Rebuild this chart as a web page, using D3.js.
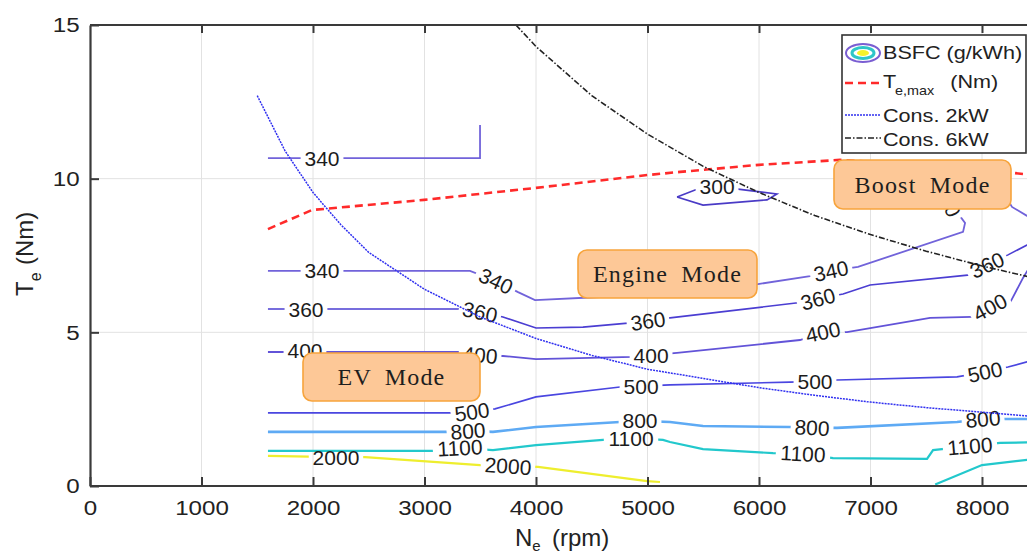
<!DOCTYPE html>
<html>
<head>
<meta charset="utf-8">
<script src="https://cdn.jsdelivr.net/npm/d3@7/dist/d3.min.js"></script>
<style>
body { margin: 0; background: #fff; }
svg { display: block; }
</style>
</head>
<body>
<script>
// axes
var xTicks = [0, 1000, 2000, 3000, 4000, 5000, 6000, 7000, 8000];
var yTicks = [0, 5, 10, 15];

// max torque curve  [rpm, Nm]
var teMax = [[1596, 8.36], [1991, 8.98], [2996, 9.31], [4000, 9.70], [5005, 10.12], [5292, 10.22],
             [6000, 10.45], [6727, 10.61], [7000, 10.55], [7500, 10.45], [8000, 10.3], [8250, 10.2], [8500, 10.1]];

// constant power lines
var cons2kW = [[1500, 12.7], [1750, 10.9], [2000, 9.55], [2250, 8.5], [2500, 7.6], [3000, 6.4], [3500, 5.5],
               [4000, 4.8], [4500, 4.25], [5000, 3.8], [5500, 3.5], [6000, 3.2], [6500, 2.95], [7000, 2.73],
               [7500, 2.55], [8000, 2.4], [8500, 2.25]];
var cons6kW = [[3820, 15.0], [4000, 14.3], [4500, 12.7], [5000, 11.45], [5500, 10.4], [6000, 9.55],
               [6500, 8.8], [7000, 8.18], [7500, 7.64], [8000, 7.16], [8500, 6.74]];

// BSFC contours  [rpm, Nm], labels [rpm, Nm, angle]
var c300 = [[5265, 9.40], [5426, 9.63], [5624, 9.72], [5812, 9.66], [6161, 9.50], [6072, 9.31], [5498, 9.14], [5265, 9.40]];
var lab300 = [[5624, 9.76, 0]];

var c340a = [[1596, 10.67], [3498, 10.67], [3498, 11.75]];
var lab340a = [[2081, 10.67, 0]];

var c340b = [[1596, 7.00], [3408, 7.00], [3641, 6.67], [3839, 6.31], [3991, 6.05], [4574, 6.15], [5471, 6.38],
             [5991, 6.57], [6458, 6.83], [6646, 7.00], [6888, 7.13], [7830, 8.27], [7848, 8.56], [7695, 9.31],
             [7560, 10.0], [7700, 10.5], [8000, 10.4], [8200, 9.5], [8269, 9.08], [8404, 8.79], [8566, 8.46]];
var lab340b = [[2081, 7.00, 0], [3641, 6.67, 25], [6646, 7.00, -12], [7695, 9.31, 65]];

var c360 = [[1596, 5.76], [3318, 5.76], [3498, 5.66], [3704, 5.50], [4000, 5.14], [4421, 5.17], [4825, 5.30],
            [5004, 5.37], [5202, 5.47], [6350, 5.96], [6529, 6.09], [6754, 6.25], [6996, 6.54], [7892, 6.87],
            [8045, 7.19], [8233, 7.52], [8404, 7.84], [8566, 8.14]];
var lab360 = [[1937, 5.76, 0], [3498, 5.66, 12], [5004, 5.37, -8], [6529, 6.09, -15], [8045, 7.19, -25]];

var c400 = [[1596, 4.36], [3301, 4.36], [3498, 4.26], [3704, 4.23], [4000, 4.13], [4870, 4.20], [5032, 4.26],
            [5265, 4.33], [6368, 4.75], [6574, 5.01], [6789, 5.01], [7534, 5.47], [7910, 5.50], [8072, 5.82],
            [8251, 5.96], [8368, 6.77], [8520, 7.68]];
var lab400 = [[1928, 4.40, 0], [3498, 4.26, 5], [5032, 4.26, 0], [6574, 5.01, -12], [8072, 5.82, -28]];

var c500 = [[1596, 2.38], [3274, 2.38], [3426, 2.41], [3632, 2.51], [4000, 2.90], [4753, 3.22], [4942, 3.25],
            [5202, 3.29], [6278, 3.38], [6502, 3.40], [6700, 3.45], [7776, 3.55], [8027, 3.71], [8233, 3.87],
            [8404, 4.04], [8566, 4.17]];
var lab500 = [[3426, 2.41, -8], [4942, 3.25, 0], [6502, 3.40, 0], [8027, 3.71, -12]];

var c800 = [[1596, 1.76], [3229, 1.76], [3390, 1.79], [3614, 1.76], [4000, 1.92], [4753, 2.08], [4933, 2.12],
            [5202, 2.08], [5498, 1.95], [6278, 1.92], [6476, 1.90], [6700, 1.89], [7776, 2.08], [8009, 2.18],
            [8233, 2.18], [8566, 2.18]];
var lab800 = [[3390, 1.79, -4], [4933, 2.12, 0], [6476, 1.90, 3], [8009, 2.18, -5]];

var c1100a = [[1596, 1.14], [3076, 1.14], [3318, 1.24], [3614, 1.17], [4000, 1.33], [4601, 1.50], [4852, 1.56],
              [5139, 1.50], [5202, 1.43], [5498, 1.20], [6126, 1.07], [6395, 1.05], [6664, 0.91], [7507, 0.88],
              [7561, 1.17], [7642, 1.20], [7892, 1.30], [8162, 1.40], [8566, 1.43]];
var lab1100a = [[3318, 1.24, -3], [4852, 1.56, 0], [6395, 1.05, 3], [7892, 1.30, -5]];

var c1100b = [[7580, 0.05], [8000, 0.68], [8404, 0.85], [8566, 0.9]];
var lab1100b = [];

var c2000 = [[1596, 0.98], [2206, 0.94], [2467, 0.94], [3498, 0.68], [3749, 0.65], [4018, 0.62], [4996, 0.16], [5112, 0.13]];
var lab2000 = [[2206, 0.94, 0], [3749, 0.65, 4]];

var contours = [
    {lv: 300, pts: c300, labs: lab300},
    {lv: 340, pts: c340a, labs: lab340a},
    {lv: 340, pts: c340b, labs: lab340b},
    {lv: 360, pts: c360, labs: lab360},
    {lv: 400, pts: c400, labs: lab400},
    {lv: 500, pts: c500, labs: lab500},
    {lv: 800, pts: c800, labs: lab800},
    {lv: 1100, pts: c1100a, labs: lab1100a},
    {lv: 1100, pts: c1100b, labs: lab1100b},
    {lv: 2000, pts: c2000, labs: lab2000}
];
var lvColor = {300: '#4a3bc6', 340: '#7163da', 360: '#4b3ed2', 400: '#6253d8', 500: '#4a46e0',
               800: '#5eaaf4', 1100: '#22c8cc', 2000: '#eeee2e'};
var lvWidth = {300: 1.6, 340: 1.8, 360: 1.6, 400: 1.8, 500: 1.6, 800: 2.6, 1100: 2.2, 2000: 2.2};

var W = 1027, H = 554;
var x = d3.scaleLinear().domain([0, 9000]).range([90, 1093.5]);
var y = d3.scaleLinear().domain([0, 15]).range([486, 25]);

var svg = d3.select('body').append('svg')
    .attr('width', W)
    .attr('height', H)
    .style('font-family', '"Liberation Sans", Arial, sans-serif');

var defs = svg.append('defs');
defs.append('clipPath').attr('id', 'plot')
    .append('rect').attr('x', 90).attr('y', 25).attr('width', 1010).attr('height', 461);

// grid
var grid = svg.append('g').attr('stroke', '#e2e2e2').attr('stroke-width', 1);
grid.selectAll('.gx').data(xTicks.slice(1)).enter().append('line')
    .attr('x1', d => x(d)).attr('x2', d => x(d)).attr('y1', y(0)).attr('y2', y(15));
grid.selectAll('.gy').data(yTicks.slice(1, 3)).enter().append('line')
    .attr('x1', x(0)).attr('x2', x(9000)).attr('y1', d => y(d)).attr('y2', d => y(d));

var line = d3.line().x(d => x(d[0])).y(d => y(d[1]));
var plot = svg.append('g').attr('clip-path', 'url(#plot)');

// contour lines with gaps for the labels
contours.forEach(function(c, i) {
    var m = defs.append('mask').attr('id', 'm' + i).attr('maskUnits', 'userSpaceOnUse')
        .attr('x', 0).attr('y', 0).attr('width', W).attr('height', H);
    m.append('rect').attr('width', W).attr('height', H).attr('fill', 'white');
    var tw = String(c.lv).length * 11.6 + 8;
    c.labs.forEach(function(l) {
        m.append('rect').attr('x', -tw / 2).attr('y', -9).attr('width', tw).attr('height', 18)
            .attr('fill', 'black')
            .attr('transform', 'translate(' + x(l[0]) + ',' + y(l[1]) + ') rotate(' + l[2] + ')');
    });
    plot.append('path').datum(c.pts)
        .attr('d', line)
        .attr('fill', 'none')
        .attr('stroke', lvColor[c.lv])
        .attr('stroke-width', lvWidth[c.lv])
        .attr('mask', 'url(#m' + i + ')');
    plot.selectAll(null).data(c.labs).enter().append('text')
        .attr('transform', d => 'translate(' + x(d[0]) + ',' + y(d[1]) + ') rotate(' + d[2] + ')')
        .attr('text-anchor', 'middle')
        .attr('dy', '0.36em')
        .attr('font-size', 21)
        .attr('fill', '#1c1c1c')
        .text(c.lv);
});

// Te max
plot.append('path').datum(teMax).attr('d', line)
    .attr('fill', 'none').attr('stroke', '#ff2a2a').attr('stroke-width', 2.6)
    .attr('stroke-dasharray', '8,5');
// constant power
plot.append('path').datum(cons2kW).attr('d', line)
    .attr('fill', 'none').attr('stroke', '#3030f0').attr('stroke-width', 1.5)
    .attr('stroke-dasharray', '2,1');
plot.append('path').datum(cons6kW).attr('d', line)
    .attr('fill', 'none').attr('stroke', '#222').attr('stroke-width', 1.6)
    .attr('stroke-dasharray', '6,2,1.5,2');

// axes
var tickStretch = 'scale(1.15,1)';
var fmt = d3.format('d');
var axB = svg.append('g').attr('transform', 'translate(0,' + y(0) + ')')
    .call(d3.axisBottom(x).tickValues(xTicks).tickFormat(fmt).tickSizeInner(-9).tickSizeOuter(0).tickPadding(14));
var axT = svg.append('g').attr('transform', 'translate(0,' + y(15) + ')')
    .call(d3.axisTop(x).tickValues(xTicks.slice(1)).tickSizeInner(-8).tickSizeOuter(0).tickFormat(''));
var axL = svg.append('g').attr('transform', 'translate(' + x(0) + ',0)')
    .call(d3.axisLeft(y).tickValues(yTicks).tickFormat(fmt).tickSizeInner(-9).tickSizeOuter(0).tickPadding(9));
[axB, axT, axL].forEach(function(a) {
    a.select('.domain').attr('stroke', '#3a3a3a').attr('stroke-width', 2.2);
    a.selectAll('.tick line').attr('stroke', '#3a3a3a').attr('stroke-width', 2);
    a.selectAll('.tick text').attr('font-size', 21).attr('fill', '#222')
        .attr('font-family', '"Liberation Sans", Arial, sans-serif')
        .attr('transform', tickStretch);
});
axB.select('.domain').attr('d', 'M90,0H1100');
axT.select('.domain').attr('d', 'M90,0H1100');

// axis titles
var xt = svg.append('text').attr('x', 515).attr('y', 546).attr('font-size', 24).attr('fill', '#222');
xt.append('tspan').text('N');
xt.append('tspan').attr('font-size', 15).attr('dy', 5).text('e');
xt.append('tspan').attr('dy', -5).attr('x', 552).text('(rpm)');

var yt = svg.append('text').attr('transform', 'translate(33,296) rotate(-90)')
    .attr('font-size', 24).attr('fill', '#222');
yt.append('tspan').text('T');
yt.append('tspan').attr('font-size', 16).attr('dy', 8).text('e');
yt.append('tspan').attr('dy', -8).attr('x', 31).text('(Nm)');

// mode boxes
var modes = [
    {t: 'Boost Mode', x0: 834, y0: 160, w: 177, h: 49},
    {t: 'Engine Mode', x0: 578, y0: 250, w: 179, h: 48},
    {t: 'EV Mode', x0: 303, y0: 353, w: 177, h: 48}
];
modes.forEach(function(m) {
    svg.append('rect').attr('x', m.x0).attr('y', m.y0).attr('width', m.w).attr('height', m.h)
        .attr('rx', 9).attr('fill', '#fdc897').attr('stroke', '#f7a43c').attr('stroke-width', 1.6);
    svg.append('text').attr('x', m.x0 + m.w / 2).attr('y', m.y0 + m.h / 2 + 8)
        .attr('text-anchor', 'middle')
        .attr('font-family', '"Liberation Serif", "Times New Roman", serif')
        .attr('font-size', 24).attr('letter-spacing', 1.2).attr('word-spacing', 6)
        .attr('fill', '#1e1e1e').text(m.t);
});

// legend
var lg = svg.append('g');
lg.append('rect').attr('x', 842).attr('y', 35).attr('width', 184).attr('height', 118)
    .attr('fill', '#fff').attr('stroke', '#333').attr('stroke-width', 1.6);
lg.append('ellipse').attr('cx', 863).attr('cy', 53).attr('rx', 17).attr('ry', 9)
    .attr('fill', 'none').attr('stroke', '#7a5ed2').attr('stroke-width', 2);
lg.append('ellipse').attr('cx', 863).attr('cy', 53).attr('rx', 11).attr('ry', 5.5)
    .attr('fill', 'none').attr('stroke', '#2ec6c8').attr('stroke-width', 3);
lg.append('ellipse').attr('cx', 863).attr('cy', 53).attr('rx', 6).attr('ry', 3)
    .attr('fill', '#f4f22a');
lg.append('line').attr('x1', 845).attr('x2', 881).attr('y1', 83).attr('y2', 83)
    .attr('stroke', '#ff2a2a').attr('stroke-width', 2.6).attr('stroke-dasharray', '8,5');
lg.append('line').attr('x1', 845).attr('x2', 881).attr('y1', 115).attr('y2', 115)
    .attr('stroke', '#3030f0').attr('stroke-width', 1.5).attr('stroke-dasharray', '2,1');
lg.append('line').attr('x1', 845).attr('x2', 881).attr('y1', 138).attr('y2', 138)
    .attr('stroke', '#222').attr('stroke-width', 1.6).attr('stroke-dasharray', '6,2,1.5,2');

function legText(ty) {
    return lg.append('text').attr('transform', 'translate(883,' + ty + ') scale(1.2,1)')
        .attr('font-size', 18).attr('fill', '#222');
}
legText(59).text('BSFC (g/kWh)');
var te = legText(88);
te.append('tspan').text('T');
te.append('tspan').attr('font-size', 12).attr('dy', 7).attr('x', 10).text('e,max');
te.append('tspan').attr('dy', -7).attr('x', 56).text('(Nm)');
legText(122).text('Cons. 2kW');
legText(146).text('Cons. 6kW');
</script>
</body>
</html>
